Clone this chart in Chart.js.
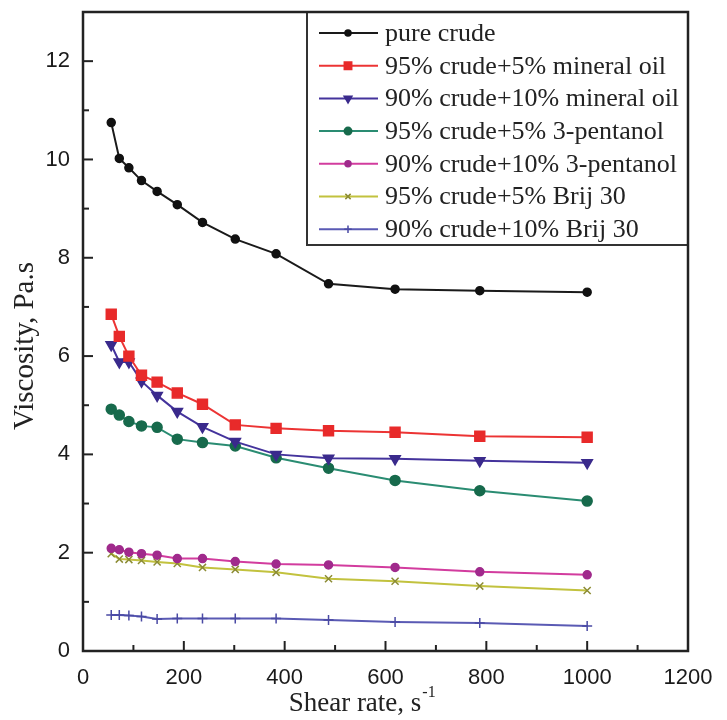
<!DOCTYPE html>
<html>
<head>
<meta charset="utf-8">
<script src="https://cdn.jsdelivr.net/npm/chart.js@4.4.1/dist/chart.umd.min.js"></script>
<style>
  html, body { margin: 0; padding: 0; background: #fff; }
  canvas { display: block; }
</style>
</head>
<body>
<canvas id="viscChart" width="727" height="720"></canvas>
<script>
// shear rate (s^-1) and viscosity (Pa.s)
const shearRate = [56, 72, 91, 116, 147, 187, 237, 302, 383, 487, 619, 787, 1000];
const pureCrude = [10.75, 10.02, 9.83, 9.57, 9.35, 9.08, 8.72, 8.38, 8.08, 7.47, 7.36, 7.33, 7.30];
const mineral5 = [6.85, 6.40, 6.00, 5.61, 5.47, 5.25, 5.02, 4.60, 4.53, 4.48, 4.45, 4.37, 4.35];
const mineral10 = [6.23, 5.88, 5.88, 5.49, 5.20, 4.87, 4.56, 4.26, 4.00, 3.92, 3.91, 3.87, 3.83];
const pentanol5 = [4.92, 4.80, 4.67, 4.58, 4.55, 4.31, 4.24, 4.17, 3.93, 3.72, 3.47, 3.26, 3.05];
const pentanol10 = [2.09, 2.06, 2.01, 1.98, 1.95, 1.88, 1.88, 1.82, 1.77, 1.75, 1.70, 1.61, 1.55];
const brij5 = [1.98, 1.87, 1.86, 1.84, 1.81, 1.78, 1.70, 1.66, 1.60, 1.47, 1.42, 1.32, 1.23];
const brij10 = [0.73, 0.73, 0.72, 0.70, 0.65, 0.66, 0.66, 0.66, 0.66, 0.63, 0.59, 0.57, 0.51];

const seriesLabels = [
    'pure crude',
    '95% crude+5% mineral oil',
    '90% crude+10% mineral oil',
    '95% crude+5% 3-pentanol',
    '90% crude+10% 3-pentanol',
    '95% crude+5% Brij 30',
    '90% crude+10% Brij 30'
];

const xTicks = [0, 200, 400, 600, 800, 1000, 1200];
const yTicks = [0, 2, 4, 6, 8, 10, 12];

const toPoints = (ys) => ys.map((y, i) => ({ x: shearRate[i], y: y }));

function series(label, ys, line, fill, style, radius, rotation) {
    return {
        label: label,
        data: toPoints(ys),
        borderColor: line,
        borderWidth: 2,
        backgroundColor: fill,
        pointBackgroundColor: fill,
        pointBorderColor: fill,
        pointBorderWidth: 1.5,
        pointStyle: style,
        pointRadius: radius,
        pointRotation: rotation || 0,
        tension: 0
    };
}

const datasets = [
    series(seriesLabels[0], pureCrude, '#1a1a1a', '#111', 'circle', 4),
    series(seriesLabels[1], mineral5, '#ec3434', '#e82a2a', 'rect', 7),
    series(seriesLabels[2], mineral10, '#44339c', '#3a2a8c', 'triangle', 6, 180),
    series(seriesLabels[3], pentanol5, '#2a8c72', '#176a4c', 'circle', 5),
    series(seriesLabels[4], pentanol10, '#d23c9e', '#a02a8c', 'circle', 4),
    series(seriesLabels[5], brij5, '#c2c23e', '#8c8c34', 'crossRot', 5),
    series(seriesLabels[6], brij10, '#5a5ab4', '#4a4aa4', 'cross', 5)
];

// frame, inward ticks, axis titles and the boxed legend
const framePlugin = {
    id: 'frame',
    afterDraw: chart => {
        const ctx = chart.ctx;
        const area = chart.chartArea;
        const xs = chart.scales.x;
        const ys = chart.scales.y;
        ctx.save();

        ctx.strokeStyle = '#222';
        ctx.lineWidth = 2;
        // x ticks: major every 200, minor every 100
        for (let v = 100; v < 1200; v += 100) {
            const px = xs.getPixelForValue(v);
            const len = v % 200 === 0 ? 10 : 6;
            ctx.beginPath();
            ctx.moveTo(px, area.bottom);
            ctx.lineTo(px, area.bottom - len);
            ctx.stroke();
        }
        // y ticks: major every 2, minor every 1
        for (let v = 1; v < 13; v++) {
            const py = ys.getPixelForValue(v);
            const len = v % 2 === 0 ? 10 : 6;
            ctx.beginPath();
            ctx.moveTo(area.left, py);
            ctx.lineTo(area.left + len, py);
            ctx.stroke();
        }

        ctx.fillStyle = '#222';
        ctx.textBaseline = 'middle';

        // x axis title, with the -1 as a superscript
        ctx.font = "27px 'Liberation Serif'";
        ctx.textAlign = 'left';
        const xTitle = 'Shear rate, s';
        const tw = ctx.measureText(xTitle).width;
        const tx = 360 - (tw + 10) / 2;
        ctx.fillText(xTitle, tx, 704);
        ctx.font = "16px 'Liberation Serif'";
        ctx.fillText('-1', tx + tw + 1, 693);

        // y axis title
        ctx.save();
        ctx.translate(25, 346);
        ctx.rotate(-Math.PI / 2);
        ctx.font = "29px 'Liberation Serif'";
        ctx.textAlign = 'center';
        ctx.fillText('Viscosity, Pa.s', 0, 0);
        ctx.restore();

        // legend box
        const lx = 307, ly = area.top, lw = area.right - 307, lh = 233;
        ctx.fillStyle = '#fff';
        ctx.fillRect(lx, ly, lw, lh);
        ctx.strokeStyle = '#333';
        ctx.lineWidth = 2;
        ctx.strokeRect(lx, ly, lw, lh);

        ctx.font = "26px 'Liberation Serif'";
        ctx.textBaseline = 'middle';
        ctx.textAlign = 'left';
        chart.data.datasets.forEach((ds, i) => {
            const cy = ly + 21 + i * 32.7;
            ctx.strokeStyle = ds.borderColor;
            ctx.lineWidth = 2;
            ctx.beginPath();
            ctx.moveTo(319, cy);
            ctx.lineTo(378, cy);
            ctx.stroke();
            ctx.fillStyle = ds.pointBackgroundColor;
            ctx.strokeStyle = ds.pointBorderColor;
            ctx.lineWidth = 1.5;
            Chart.helpers.drawPoint(ctx, {
                pointStyle: ds.pointStyle,
                radius: ds.pointRadius * 0.75,
                rotation: ds.pointRotation,
                borderWidth: 1.5
            }, 348, cy);
            ctx.fillStyle = '#222';
            ctx.fillText(ds.label, 385, cy + 1);
        });

        // plot frame
        ctx.strokeStyle = '#222';
        ctx.lineWidth = 2.5;
        ctx.strokeRect(area.left, area.top, area.right - area.left, area.bottom - area.top);
        ctx.restore();
    }
};

new Chart(document.getElementById('viscChart'), {
    type: 'line',
    data: { datasets: datasets },
    options: {
        responsive: false,
        animation: false,
        layout: { padding: { top: 12, right: 39, left: 0, bottom: 0 } },
        plugins: {
            legend: { display: false },
            tooltip: { enabled: false }
        },
        scales: {
            x: {
                type: 'linear',
                min: 0,
                max: 1200,
                grid: { display: false, drawTicks: false },
                border: { display: false },
                afterBuildTicks: scale => { scale.ticks = xTicks.map(v => ({ value: v })); },
                afterFit: scale => {
                    scale.height = 69;
                    scale.paddingLeft = 0;
                    scale.paddingRight = 0;
                },
                ticks: {
                    color: '#1a1a1a',
                    padding: 14,
                    maxRotation: 0,
                    font: { family: "'Liberation Sans'", size: 22 },
                    callback: v => String(v)
                }
            },
            y: {
                min: 0,
                max: 13,
                grid: { display: false, drawTicks: false },
                border: { display: false },
                afterBuildTicks: scale => { scale.ticks = yTicks.map(v => ({ value: v })); },
                afterFit: scale => {
                    scale.width = 83;
                    scale.paddingTop = 0;
                    scale.paddingBottom = 0;
                },
                ticks: {
                    color: '#1a1a1a',
                    padding: 13,
                    font: { family: "'Liberation Sans'", size: 22 },
                    callback: v => String(v)
                }
            }
        }
    },
    plugins: [framePlugin]
});
</script>
</body>
</html>
